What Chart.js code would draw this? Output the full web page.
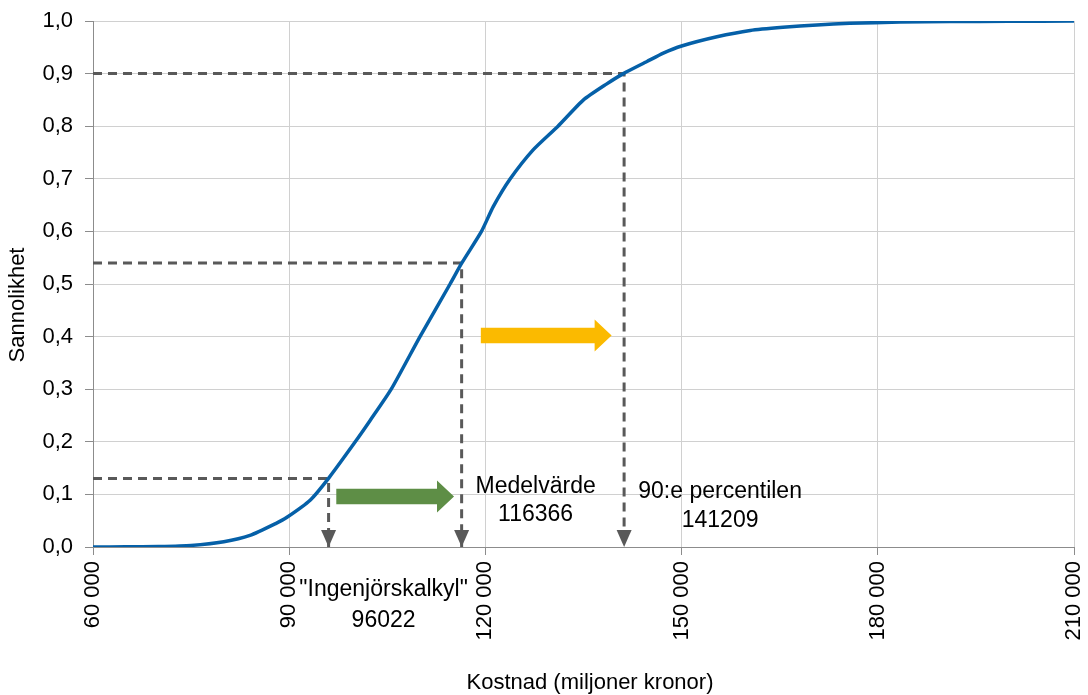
<!DOCTYPE html>
<html>
<head>
<meta charset="utf-8">
<script src="https://cdn.jsdelivr.net/npm/chart.js@4.4.1/dist/chart.umd.min.js"></script>
<style>
  html, body { margin: 0; padding: 0; background: #fff; }
  canvas { display: block; }
</style>
</head>
<body>
<canvas id="cdf" width="1088" height="695"></canvas>
<script>
// cumulative distribution
const costs = [60000, 65000, 70000, 75000, 80000, 84000, 88000, 89600, 93200, 96100, 100100,
  102400, 105600, 110000, 114600, 116400, 119400, 121200, 123800, 127300, 131100, 135000,
  138500, 141100, 144700, 147200, 150000, 155400, 160500, 165500, 170700, 175700, 183400,
  191000, 200000, 210000];
const probs = [0, 0.0003, 0.001, 0.003, 0.01, 0.022, 0.045, 0.056, 0.089, 0.132, 0.2,
  0.241, 0.3, 0.4, 0.5, 0.54, 0.6, 0.647, 0.7, 0.755, 0.8, 0.85,
  0.88, 0.9, 0.923, 0.939, 0.9525, 0.97, 0.982, 0.988, 0.9925, 0.9955, 0.998,
  0.999, 0.9995, 1.0];

// dashed guide lines
const markerCosts = [96022, 116366, 141209];
const markerProbs = [0.13, 0.54, 0.9];
const markerTitles = ['"Ingenjörskalkyl"', 'Medelvärde', '90:e percentilen'];
const markerNumbers = ['96022', '116366', '141209'];

// block arrows
const arrowFrom = [97200, 119300];
const arrowTo = [115200, 139300];
const arrowLevel = [0.096, 0.402];
const arrowColors = ['#5e8e46', '#fbba00'];

// tick labels
const xTickLabels = ['60 000', '90 000', '120 000', '150 000', '180 000', '210 000'];
const yTickLabels = ['0,0', '0,1', '0,2', '0,3', '0,4', '0,5', '0,6', '0,7', '0,8', '0,9', '1,0'];

const FONT = '"Liberation Sans", Arial, sans-serif';

const datasets = [{
  data: costs.map((c, i) => ({ x: c, y: probs[i] })),
  borderColor: '#0560a8',
  borderWidth: 3.5,
  pointRadius: 0,
  tension: 0.2,
  fill: false
}];
markerCosts.forEach((c, i) => {
  datasets.push({
    data: [{ x: 60000, y: markerProbs[i] }, { x: c, y: markerProbs[i] }, { x: c, y: 0 }],
    borderColor: '#595959',
    borderWidth: 3,
    borderDash: [9, 6],
    pointRadius: 0,
    tension: 0,
    fill: false
  });
});

// label offsets (px) relative to the marker line
const labelPlace = [
  { dx: 55, y1: 590, y2: 621 },
  { dx: 74, y1: 487, y2: 515 },
  { dx: 96, y1: 492, y2: 521 }
];

const extras = {
  id: 'extras',
  afterDatasetsDraw(chart) {
    const ctx = chart.ctx;
    const xs = chart.scales.x, ys = chart.scales.y;
    ctx.save();

    // arrow heads on the dashed verticals
    ctx.fillStyle = '#595959';
    markerCosts.forEach(c => {
      const px = xs.getPixelForValue(c), py = ys.getPixelForValue(0);
      ctx.beginPath();
      ctx.moveTo(px - 7.5, py - 17);
      ctx.lineTo(px + 7.5, py - 17);
      ctx.lineTo(px, py);
      ctx.closePath();
      ctx.fill();
    });

    // block arrows
    arrowFrom.forEach((a, i) => {
      const x0 = xs.getPixelForValue(a), x1 = xs.getPixelForValue(arrowTo[i]);
      const cy = ys.getPixelForValue(arrowLevel[i]);
      const head = 17, sh = 7.8, hh = 16;
      ctx.fillStyle = arrowColors[i];
      ctx.beginPath();
      ctx.moveTo(x0, cy - sh);
      ctx.lineTo(x1 - head, cy - sh);
      ctx.lineTo(x1 - head, cy - hh);
      ctx.lineTo(x1, cy);
      ctx.lineTo(x1 - head, cy + hh);
      ctx.lineTo(x1 - head, cy + sh);
      ctx.lineTo(x0, cy + sh);
      ctx.closePath();
      ctx.fill();
    });

    // annotation texts
    ctx.fillStyle = '#000';
    ctx.font = '23px ' + FONT;
    ctx.textAlign = 'center';
    ctx.textBaseline = 'middle';
    markerCosts.forEach((c, i) => {
      const cx = xs.getPixelForValue(c) + labelPlace[i].dx;
      ctx.fillText(markerTitles[i], cx, labelPlace[i].y1);
      ctx.fillText(markerNumbers[i], cx, labelPlace[i].y2);
    });

    // axis titles
    ctx.font = '22px ' + FONT;
    ctx.fillText('Kostnad (miljoner kronor)', 590, 683);
    ctx.translate(18, 305);
    ctx.rotate(-Math.PI / 2);
    ctx.fillText('Sannolikhet', 0, 0);
    ctx.restore();
  }
};

new Chart(document.getElementById('cdf'), {
  type: 'line',
  data: { datasets: datasets },
  plugins: [extras],
  options: {
    responsive: false,
    animation: false,
    layout: { padding: { left: 0, right: 14, top: 21, bottom: 0 } },
    plugins: { legend: { display: false }, tooltip: { enabled: false } },
    scales: {
      x: {
        type: 'linear',
        min: 60000,
        max: 210000,
        afterFit: s => { s.height = 148; s.paddingLeft = 0; s.paddingRight = 0; },
        ticks: {
          stepSize: 30000,
          minRotation: 90,
          maxRotation: 90,
          padding: 6,
          color: '#000',
          font: { family: FONT, size: 22 },
          callback: (v, i) => xTickLabels[i]
        },
        grid: { color: '#d0d0d0', tickColor: '#8c8c8c', tickLength: 8, lineWidth: 1 },
        border: { color: '#8c8c8c', width: 1 }
      },
      y: {
        min: 0,
        max: 1,
        afterFit: s => { s.width = 93; s.paddingTop = 0; s.paddingBottom = 0; },
        ticks: {
          stepSize: 0.1,
          padding: 12,
          color: '#000',
          font: { family: FONT, size: 22 },
          callback: (v, i) => yTickLabels[i]
        },
        grid: { color: '#d0d0d0', tickColor: '#8c8c8c', tickLength: 8, lineWidth: 1 },
        border: { color: '#8c8c8c', width: 1 }
      }
    }
  }
});
</script>
</body>
</html>
